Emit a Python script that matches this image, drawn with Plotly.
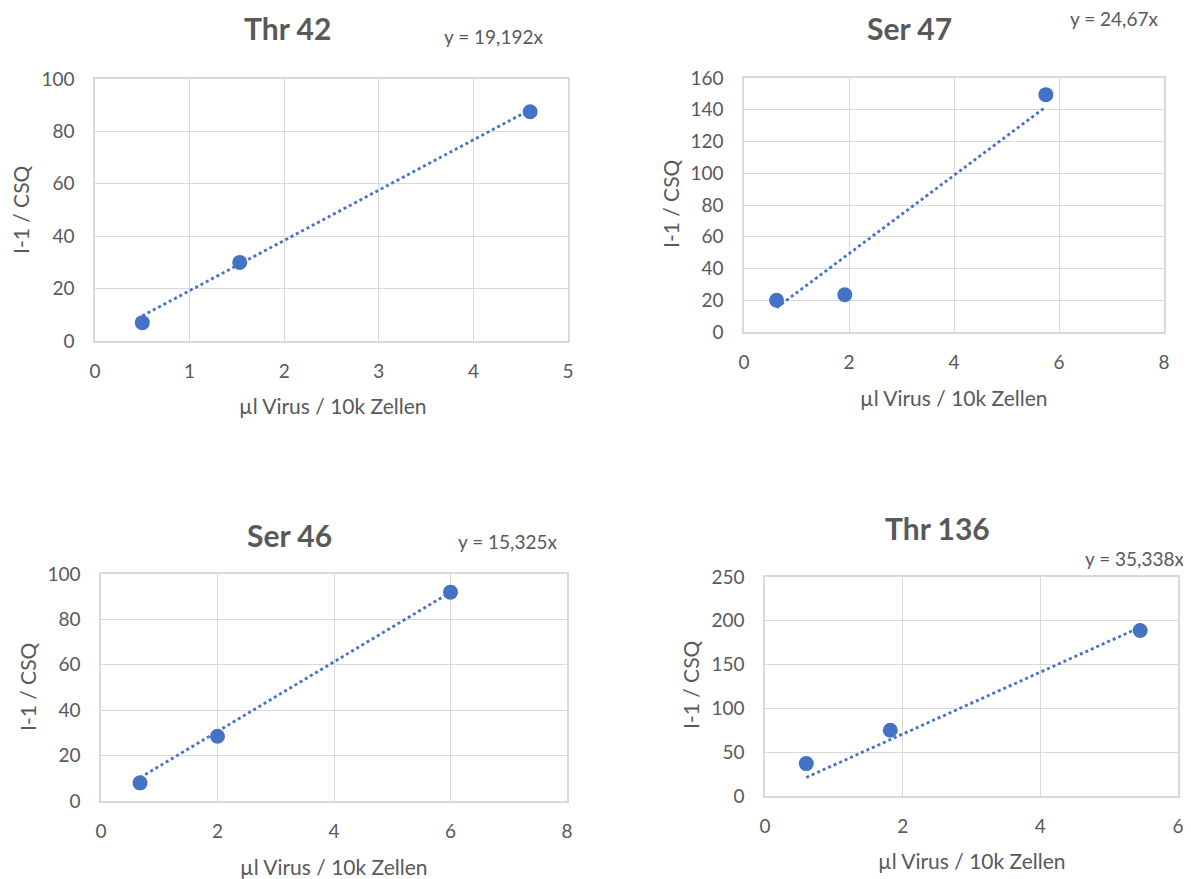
import plotly.graph_objects as go

# ---- data ----
titles = ["Thr 42", "Ser 47", "Ser 46", "Thr 136"]
slopes = [19.192, 24.67, 15.325, 35.338]
eq_labels = ["y = 19,192x", "y = 24,67x", "y = 15,325x", "y = 35,338x"]

x_thr42 = [0.50, 1.53, 4.60]
y_thr42 = [7.0, 30.0, 87.5]
x_ser47 = [0.62, 1.92, 5.75]
y_ser47 = [20.0, 23.5, 149.5]
x_ser46 = [0.67, 2.00, 6.00]
y_ser46 = [8.0, 28.5, 92.0]
x_thr136 = [0.60, 1.82, 5.45]
y_thr136 = [37.0, 75.0, 189.0]

xs = [x_thr42, x_ser47, x_ser46, x_thr136]
ys = [y_thr42, y_ser47, y_ser46, y_thr136]

x_ranges = [[0, 5], [0, 8], [0, 8], [0, 6]]
x_dticks = [1, 2, 2, 2]
y_ranges = [[0, 100], [0, 160], [0, 100], [0, 250]]
y_dticks = [20, 20, 20, 50]

x_title = "µl Virus / 10k Zellen"
y_title = "I-1 / CSQ"

# ---- layout geometry (screen pixels; page body has an 8px margin) ----
OFF = 8
W, H = 1191 - OFF, 879 - OFF
boxes = [  # left, right, top, bottom
    (95, 568, 79, 341),
    (744, 1164, 78, 332),
    (101, 567, 574, 801),
    (765, 1178, 577, 796),
]
title_pos = [(287, 28), (909, 28), (289, 535), (937, 528)]
eq_pos = [(493, 36), (1114, 19), (507, 541), (1134, 558)]
xt_pos = [(333, 405), (954, 397), (334, 866), (972, 860)]
yt_pos = [(21, 210), (670, 204), (27, 687), (690, 685)]

BLUE = "#4472C4"
TXT = "#595959"
GRID = "#D9D9D9"
FONT = "Lato, 'Open Sans', sans-serif"

def px(v):
    return (v - OFF) / W

def py(v):
    return 1 - (v - OFF) / H

fig = go.Figure()
layout = dict(
    width=W, height=H,
    margin=dict(l=0, r=0, t=0, b=0, autoexpand=False),
    paper_bgcolor="white", plot_bgcolor="white",
    showlegend=False,
    font=dict(family=FONT, color=TXT),
)
annotations = []

def ann(text, x, y, size, angle=0):
    return dict(
        text=text, x=px(x), y=py(y), xref="paper", yref="paper",
        showarrow=False, xanchor="center", yanchor="middle", textangle=angle,
        font=dict(size=size, color=TXT, family=FONT),
    )

for i in range(4):
    n = "" if i == 0 else str(i + 1)
    xa, ya = "x" + n, "y" + n
    l, r, t, b = boxes[i]
    fig.add_trace(go.Scatter(
        x=xs[i], y=ys[i], mode="markers", xaxis=xa, yaxis=ya,
        marker=dict(color=BLUE, size=15, line=dict(width=0)),
    ))
    tx = [min(xs[i]), max(xs[i])]
    fig.add_trace(go.Scatter(
        x=tx, y=[slopes[i] * v for v in tx], mode="lines", xaxis=xa, yaxis=ya,
        line=dict(color=BLUE, width=2.8, dash="dot"),
    ))
    layout["xaxis" + n] = dict(
        domain=[px(l), px(r)], anchor=ya, range=x_ranges[i], dtick=x_dticks[i],
        showgrid=True, gridcolor=GRID, gridwidth=1.3,
        showline=True, linecolor=GRID, linewidth=1.5, mirror=True,
        zeroline=False, ticks="", ticklabelstandoff=12, automargin=False,
        tickfont=dict(size=19, color=TXT),
    )
    layout["yaxis" + n] = dict(
        domain=[py(b), py(t)], anchor=xa, range=y_ranges[i], dtick=y_dticks[i],
        showgrid=True, gridcolor=GRID, gridwidth=1.3,
        showline=True, linecolor=GRID, linewidth=1.5, mirror=True,
        zeroline=False, ticks="", ticklabelstandoff=15, automargin=False,
        tickfont=dict(size=19, color=TXT),
    )
    annotations.append(ann("<b>" + titles[i] + "</b>", *title_pos[i], 30))
    annotations.append(ann(eq_labels[i], *eq_pos[i], 19))
    annotations.append(ann(x_title, *xt_pos[i], 21))
    annotations.append(ann(y_title, *yt_pos[i], 21, angle=-90))

layout["annotations"] = annotations
fig.update_layout(**layout)
fig.write_html("out.html")
